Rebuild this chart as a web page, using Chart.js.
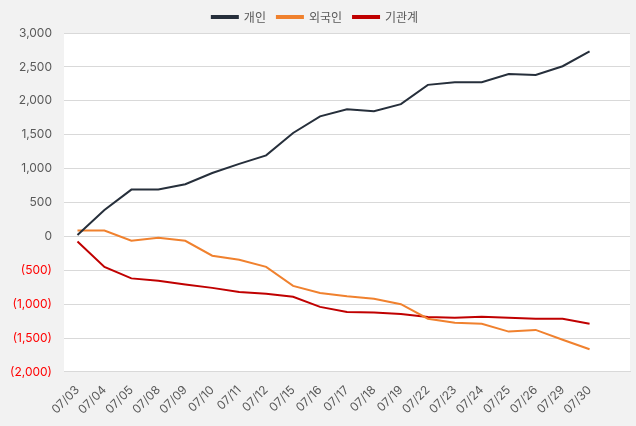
<!DOCTYPE html>
<html>
<head>
<meta charset="utf-8">
<script src="https://cdn.jsdelivr.net/npm/chart.js@4"></script>
<style>
  html, body { margin: 0; padding: 0; background: #f2f2f2; }
  #wrap { width: 636px; height: 426px; }
</style>
</head>
<body>
<div id="wrap"><canvas id="chartCanvas" width="636" height="426"></canvas></div>
<script>
// data
const dates = ['07/03', '07/04', '07/05', '07/08', '07/09', '07/10', '07/11', '07/12', '07/15', '07/16',
  '07/17', '07/18', '07/19', '07/22', '07/23', '07/24', '07/25', '07/26', '07/29', '07/30', ''];
const individual = [20, 390, 690, 690, 770, 935, 1070, 1195, 1525, 1770,
  1875, 1845, 1950, 2235, 2275, 2275, 2395, 2380, 2510, 2730];
const foreign = [85, 85, -65, -20, -65, -285, -345, -450, -730, -835,
  -885, -920, -1000, -1215, -1275, -1290, -1405, -1380, -1525, -1665];
const institution = [-75, -450, -620, -655, -710, -760, -820, -845, -890, -1040,
  -1115, -1125, -1145, -1190, -1200, -1185, -1200, -1215, -1215, -1290];

const FONT = "Inter, 'Noto Sans CJK KR', sans-serif";

// white plot area on grey page
const plotBg = {
  id: 'plotBg',
  beforeDraw(chart) {
    const { ctx, chartArea: a } = chart;
    ctx.save();
    ctx.fillStyle = '#ffffff';
    ctx.fillRect(a.left, a.top, a.right - a.left, a.bottom - a.top);
    ctx.restore();
  }
};

function fmt(v) {
  const s = Math.abs(v).toLocaleString('en-US');
  return v < 0 ? '(' + s + ')' : s;
}

new Chart(document.getElementById('chartCanvas').getContext('2d'), {
  type: 'line',
  data: {
    labels: dates,
    datasets: [
      { label: '개인', data: individual, borderColor: '#262f3b', backgroundColor: '#262f3b' },
      { label: '외국인', data: foreign, borderColor: '#f0812e', backgroundColor: '#f0812e' },
      { label: '기관계', data: institution, borderColor: '#c00000', backgroundColor: '#c00000' }
    ].map(d => Object.assign(d, { borderWidth: 2, pointRadius: 0, tension: 0, fill: false }))
  },
  options: {
    responsive: false,
    animation: false,
    layout: { padding: { left: 0, right: 6, top: 0, bottom: 6 } },
    plugins: {
      legend: {
        position: 'top',
        labels: {
          font: { family: "'Noto Sans CJK KR', sans-serif", size: 12 },
          color: '#595959',
          boxWidth: 26,
          boxHeight: 2,
          padding: 11
        }
      },
      tooltip: { enabled: false }
    },
    scales: {
      x: {
        offset: true,
        grid: { display: false },
        border: { display: true, color: '#d9d9d9' },
        ticks: {
          font: { family: FONT, size: 12 },
          color: '#595959',
          maxRotation: 45,
          minRotation: 45,
          autoSkip: false
        }
      },
      y: {
        min: -2000,
        max: 3000,
        afterFit(scale) { scale.width = 64; },
        grid: { color: '#d9d9d9', drawTicks: false },
        border: { display: false },
        ticks: {
          stepSize: 500,
          padding: 12,
          font: { family: FONT, size: 12 },
          color: ctx => ctx.tick.value < 0 ? '#ff0000' : '#595959',
          callback: v => fmt(v)
        }
      }
    }
  },
  plugins: [plotBg]
});
</script>
</body>
</html>
